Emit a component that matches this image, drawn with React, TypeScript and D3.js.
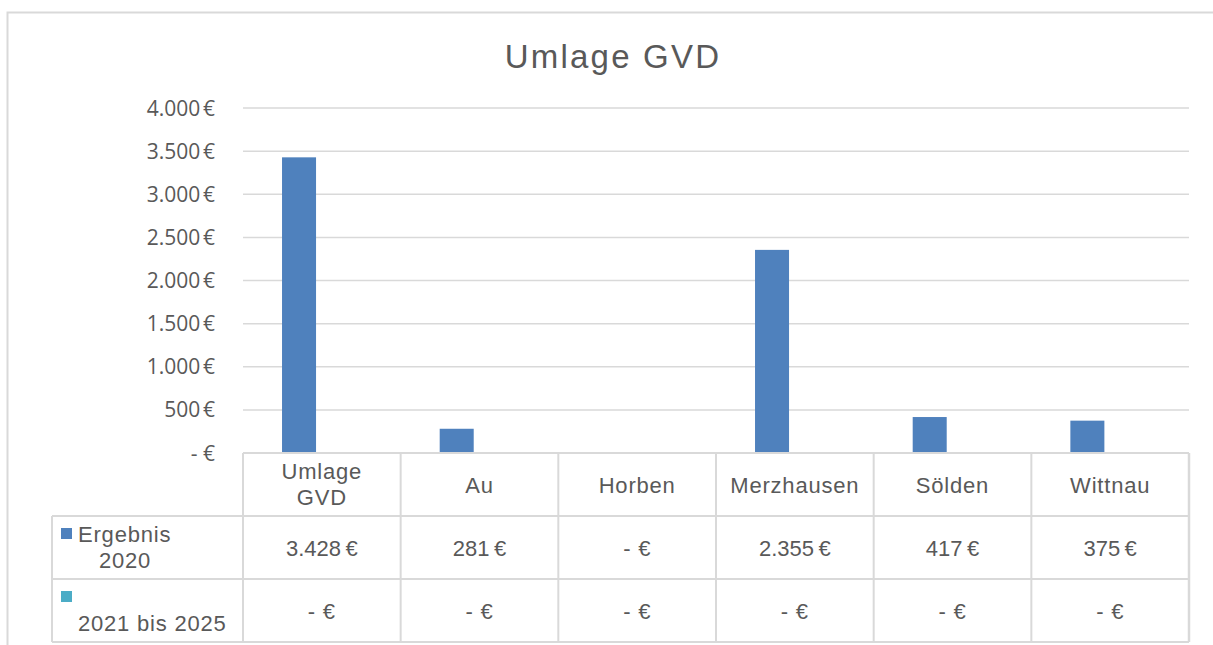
import React from "react";
import * as d3 from "d3";

const categories = ["Umlage GVD", "Au", "Horben", "Merzhausen", "Sölden", "Wittnau"];
const categoryLines = [["Umlage", "GVD"], ["Au"], ["Horben"], ["Merzhausen"], ["Sölden"], ["Wittnau"]];
const seriesNames = ["Ergebnis 2020", "2021 bis 2025"];
const seriesLabelLines = [["Ergebnis", "2020"], ["", "2021 bis 2025"]];
const ergebnis2020 = [3428, 281, 0, 2355, 417, 375];
const bis2025 = [0, 0, 0, 0, 0, 0];
const yTicks = [0, 500, 1000, 1500, 2000, 2500, 3000, 3500, 4000];
const seriesColors = ["#4F81BD", "#4BACC6"];

const W = 1213;
const H = 645;
const plotLeft = 243;
const plotRight = 1189;
const plotTop = 108;
const plotBottom = 453;
const rowH = 63;
const legendLeft = 52;
const textColor = "#595959";
const gridColor = "#d9d9d9";

const locale = d3.formatLocale({ decimal: ",", thousands: ".", grouping: [3], currency: ["", " €"] });
const fmt = locale.format(",.0f");
const euro = (v: number) => (v === 0 ? "- €" : fmt(v) + "\u202F€");

export default function App() {
  const x = d3.scaleBand<string>().domain(categories).range([plotLeft, plotRight]).padding(0);
  const inner = d3
    .scaleBand<string>()
    .domain(seriesNames)
    .range([0, x.bandwidth()])
    .paddingInner(0.254)
    .paddingOuter(0.856);
  const y = d3.scaleLinear().domain([0, 4000]).range([plotBottom, plotTop]);
  const series = [ergebnis2020, bis2025];

  const tableTop = plotBottom;
  const rows = [tableTop, tableTop + rowH, tableTop + 2 * rowH, tableTop + 3 * rowH];
  const tableFont = { fontFamily: "'Liberation Sans', Arial, sans-serif", fontSize: 22, letterSpacing: 0.8, fill: textColor };

  return (
    <svg width={W} height={H} style={{ position: "absolute", left: 0, top: 0, background: "#fff" }}>
      <rect x={0} y={0} width={W} height={H} fill="#fff" />
      {/* outer chart border */}
      <path d={`M7.5,${H} V12.5 H${W}`} fill="none" stroke={gridColor} strokeWidth={2} />
      {/* title */}
      <text x={613} y={68} textAnchor="middle" fontFamily="'Liberation Sans', Arial, sans-serif" fontSize={33} letterSpacing={2.2} fill={textColor}>
        Umlage GVD
      </text>
      {/* gridlines */}
      {yTicks.filter((t) => t > 0).map((t) => (
        <line key={t} x1={plotLeft} x2={plotRight} y1={y(t)} y2={y(t)} stroke={gridColor} strokeWidth={1.5} />
      ))}
      {/* y labels */}
      {yTicks.map((t) => (
        <text key={t} x={215} y={y(t) + 7.5} textAnchor="end" fontFamily="'Open Sans', sans-serif" fontSize={21} fill={textColor}>
          {euro(t)}
        </text>
      ))}
      {/* bars */}
      {series.map((vals, si) =>
        categories.map((c, ci) => (
          <rect
            key={si + "-" + c}
            x={(x(c) as number) + (inner(seriesNames[si]) as number)}
            y={y(vals[ci])}
            width={inner.bandwidth()}
            height={y(0) - y(vals[ci])}
            fill={seriesColors[si]}
          />
        ))
      )}
      {/* table grid */}
      <line x1={plotLeft} x2={plotRight} y1={rows[0]} y2={rows[0]} stroke={gridColor} strokeWidth={2} />
      {[1, 2, 3].map((r) => (
        <line key={r} x1={legendLeft} x2={plotRight} y1={rows[r]} y2={rows[r]} stroke={gridColor} strokeWidth={2} />
      ))}
      <line x1={legendLeft} x2={legendLeft} y1={rows[1]} y2={rows[3]} stroke={gridColor} strokeWidth={2} />
      {categories.map((c) => (
        <line key={c} x1={x(c) as number} x2={x(c) as number} y1={rows[0]} y2={rows[3]} stroke={gridColor} strokeWidth={2} />
      ))}
      <line x1={plotRight} x2={plotRight} y1={rows[0]} y2={rows[3]} stroke={gridColor} strokeWidth={2.5} />
      {/* category headers */}
      {categories.map((c, ci) => {
        const cx = (x(c) as number) + x.bandwidth() / 2;
        const lines = categoryLines[ci];
        return lines.map((ln, li) => (
          <text
            key={c + li}
            x={cx}
            y={lines.length === 1 ? rows[0] + 40 : rows[0] + 26 + li * 26}
            textAnchor="middle"
            {...tableFont}
          >
            {ln}
          </text>
        ));
      })}
      {/* legend cells */}
      {seriesNames.map((s, si) => (
        <g key={s}>
          <rect x={61} y={rows[1 + si] + 12} width={11} height={11} fill={seriesColors[si]} />
          <text x={78} y={rows[1 + si] + 26} {...tableFont}>
            {seriesLabelLines[si][0]}
          </text>
          <text x={si === 0 ? 99 : 78} y={rows[1 + si] + 52} {...tableFont}>
            {seriesLabelLines[si][1]}
          </text>
        </g>
      ))}
      {/* values */}
      {series.map((vals, si) =>
        categories.map((c, ci) => (
          <text
            key={"v" + si + c}
            x={(x(c) as number) + x.bandwidth() / 2}
            y={rows[1 + si] + 40}
            textAnchor="middle"
            {...tableFont}
          >
            {euro(vals[ci])}
          </text>
        ))
      )}
    </svg>
  );
}
